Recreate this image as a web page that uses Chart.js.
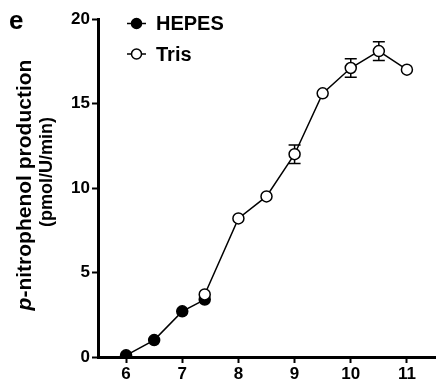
<!DOCTYPE html>
<html lang="en">
<head>
<meta charset="UTF-8">
<title>p-nitrophenol production vs pH</title>
<script src="https://cdn.jsdelivr.net/npm/chart.js@4"></script>
<style>
    body { margin: 0; background: #fff; }
    #wrap { width: 442px; height: 386px; position: relative; }
</style>
</head>
<body>
<div id="wrap"><canvas id="chart"></canvas></div>
<script>
    // data
    const phHepes = [6, 6.5, 7, 7.4];
    const hepesVals = [0.1, 1.0, 2.7, 3.4];
    const hepesErr = [0, 0, 0, 0];

    const phTris = [7.4, 8, 8.5, 9, 9.5, 10, 10.5, 11];
    const trisVals = [3.7, 8.2, 9.5, 12.0, 15.6, 17.1, 18.1, 17.0];
    const trisErr = [0, 0, 0, 0.55, 0, 0.55, 0.55, 0];

    const xTicks = [6, 7, 8, 9, 10, 11];
    const yTicks = [0, 5, 10, 15, 20];
    const seriesNames = ['HEPES', 'Tris'];

    const FONT = 'Arial, "Liberation Sans", sans-serif';

    function toPoints(xs, ys) {
        return xs.map((x, i) => ({ x: x, y: ys[i] }));
    }

    // error bars, drawn under the markers
    const errorBars = {
        id: 'errorBars',
        beforeDatasetsDraw(chart) {
            const ctx = chart.ctx;
            const xs = chart.scales.x, ys = chart.scales.y;
            ctx.save();
            ctx.strokeStyle = '#000';
            ctx.lineWidth = 1.5;
            chart.data.datasets.forEach(ds => {
                ds.data.forEach((p, i) => {
                    const e = ds.errors[i];
                    if (!e) return;
                    const px = xs.getPixelForValue(p.x);
                    const top = ys.getPixelForValue(p.y + e);
                    const bot = ys.getPixelForValue(p.y - e);
                    ctx.beginPath();
                    ctx.moveTo(px, top); ctx.lineTo(px, bot);
                    ctx.moveTo(px - 6, top); ctx.lineTo(px + 6, top);
                    ctx.moveTo(px - 6, bot); ctx.lineTo(px + 6, bot);
                    ctx.stroke();
                });
            });
            ctx.restore();
        }
    };

    // panel letter, axis title and legend
    const decorations = {
        id: 'decorations',
        afterDraw(chart) {
            const ctx = chart.ctx;
            ctx.save();
            ctx.fillStyle = '#000';

            ctx.font = 'bold 26px ' + FONT;
            ctx.textAlign = 'left';
            ctx.textBaseline = 'alphabetic';
            ctx.fillText('e', 9, 29);

            // y axis title, two lines, italic p
            ctx.save();
            ctx.translate(25, 185);
            ctx.rotate(-Math.PI / 2);
            ctx.textBaseline = 'middle';
            const boldF = 'bold 21px ' + FONT;
            const italF = 'italic bold 21px ' + FONT;
            ctx.font = italF;
            const wp = ctx.measureText('p').width;
            ctx.font = boldF;
            const rest = '-nitrophenol production';
            const wr = ctx.measureText(rest).width;
            const sx = -(wp + wr) / 2;
            ctx.textAlign = 'left';
            ctx.font = italF;
            ctx.fillText('p', sx, 0);
            ctx.font = boldF;
            ctx.fillText(rest, sx + wp, 0);
            ctx.restore();

            ctx.save();
            ctx.translate(47, 172);
            ctx.rotate(-Math.PI / 2);
            ctx.textBaseline = 'middle';
            ctx.textAlign = 'center';
            ctx.font = 'bold 18px ' + FONT;
            ctx.fillText('(pmol/U/min)', 0, 0);
            ctx.restore();

            // legend
            const rows = [23.5, 54];
            chart.data.datasets.forEach((ds, i) => {
                const y = rows[i];
                ctx.strokeStyle = '#000';
                ctx.lineWidth = 1.5;
                ctx.beginPath();
                ctx.moveTo(127, y); ctx.lineTo(146, y);
                ctx.stroke();
                ctx.beginPath();
                ctx.arc(136.5, y, 5, 0, Math.PI * 2);
                ctx.fillStyle = ds.pointBackgroundColor;
                ctx.fill();
                ctx.stroke();
                ctx.fillStyle = '#000';
                ctx.font = 'bold 20px ' + FONT;
                ctx.textAlign = 'left';
                ctx.textBaseline = 'middle';
                ctx.fillText(ds.label, 156, y + 1);
            });
            ctx.restore();
        }
    };

    const tickFont = { family: FONT, size: 17, weight: 'bold' };

    new Chart(document.getElementById('chart'), {
        type: 'line',
        data: {
            datasets: [
                {
                    label: seriesNames[0],
                    data: toPoints(phHepes, hepesVals),
                    errors: hepesErr,
                    borderColor: '#000',
                    borderWidth: 1.5,
                    pointRadius: 5.5,
                    pointBorderWidth: 1.5,
                    pointBackgroundColor: '#000',
                    pointBorderColor: '#000',
                    order: 1
                },
                {
                    label: seriesNames[1],
                    data: toPoints(phTris, trisVals),
                    errors: trisErr,
                    borderColor: '#000',
                    borderWidth: 1.5,
                    pointRadius: 5.5,
                    pointBorderWidth: 1.5,
                    pointBackgroundColor: '#fff',
                    pointBorderColor: '#000',
                    order: 0
                }
            ]
        },
        options: {
            responsive: true,
            maintainAspectRatio: false,
            animation: false,
            layout: { padding: { top: 19, right: 2, left: 0, bottom: 0 } },
            plugins: {
                legend: { display: false },
                tooltip: { enabled: false }
            },
            scales: {
                x: {
                    type: 'linear',
                    min: 5.5,
                    max: 11.5,
                    afterBuildTicks: s => { s.ticks = xTicks.map(v => ({ value: v })); },
                    afterFit: s => { s.height = 29; },
                    grid: { drawOnChartArea: false, drawTicks: true, tickLength: 6, tickWidth: 2, tickColor: '#000' },
                    border: { display: true, color: '#000', width: 3 },
                    ticks: { color: '#000', font: tickFont, padding: 1 }
                },
                y: {
                    min: 0,
                    max: 20,
                    afterBuildTicks: s => { s.ticks = yTicks.map(v => ({ value: v })); },
                    afterFit: s => { s.width = 98; },
                    grid: { drawOnChartArea: false, drawTicks: true, tickLength: 6, tickWidth: 2, tickColor: '#000' },
                    border: { display: true, color: '#000', width: 3 },
                    ticks: { color: '#000', font: tickFont, padding: 2 }
                }
            }
        },
        plugins: [errorBars, decorations]
    });
</script>
</body>
</html>
